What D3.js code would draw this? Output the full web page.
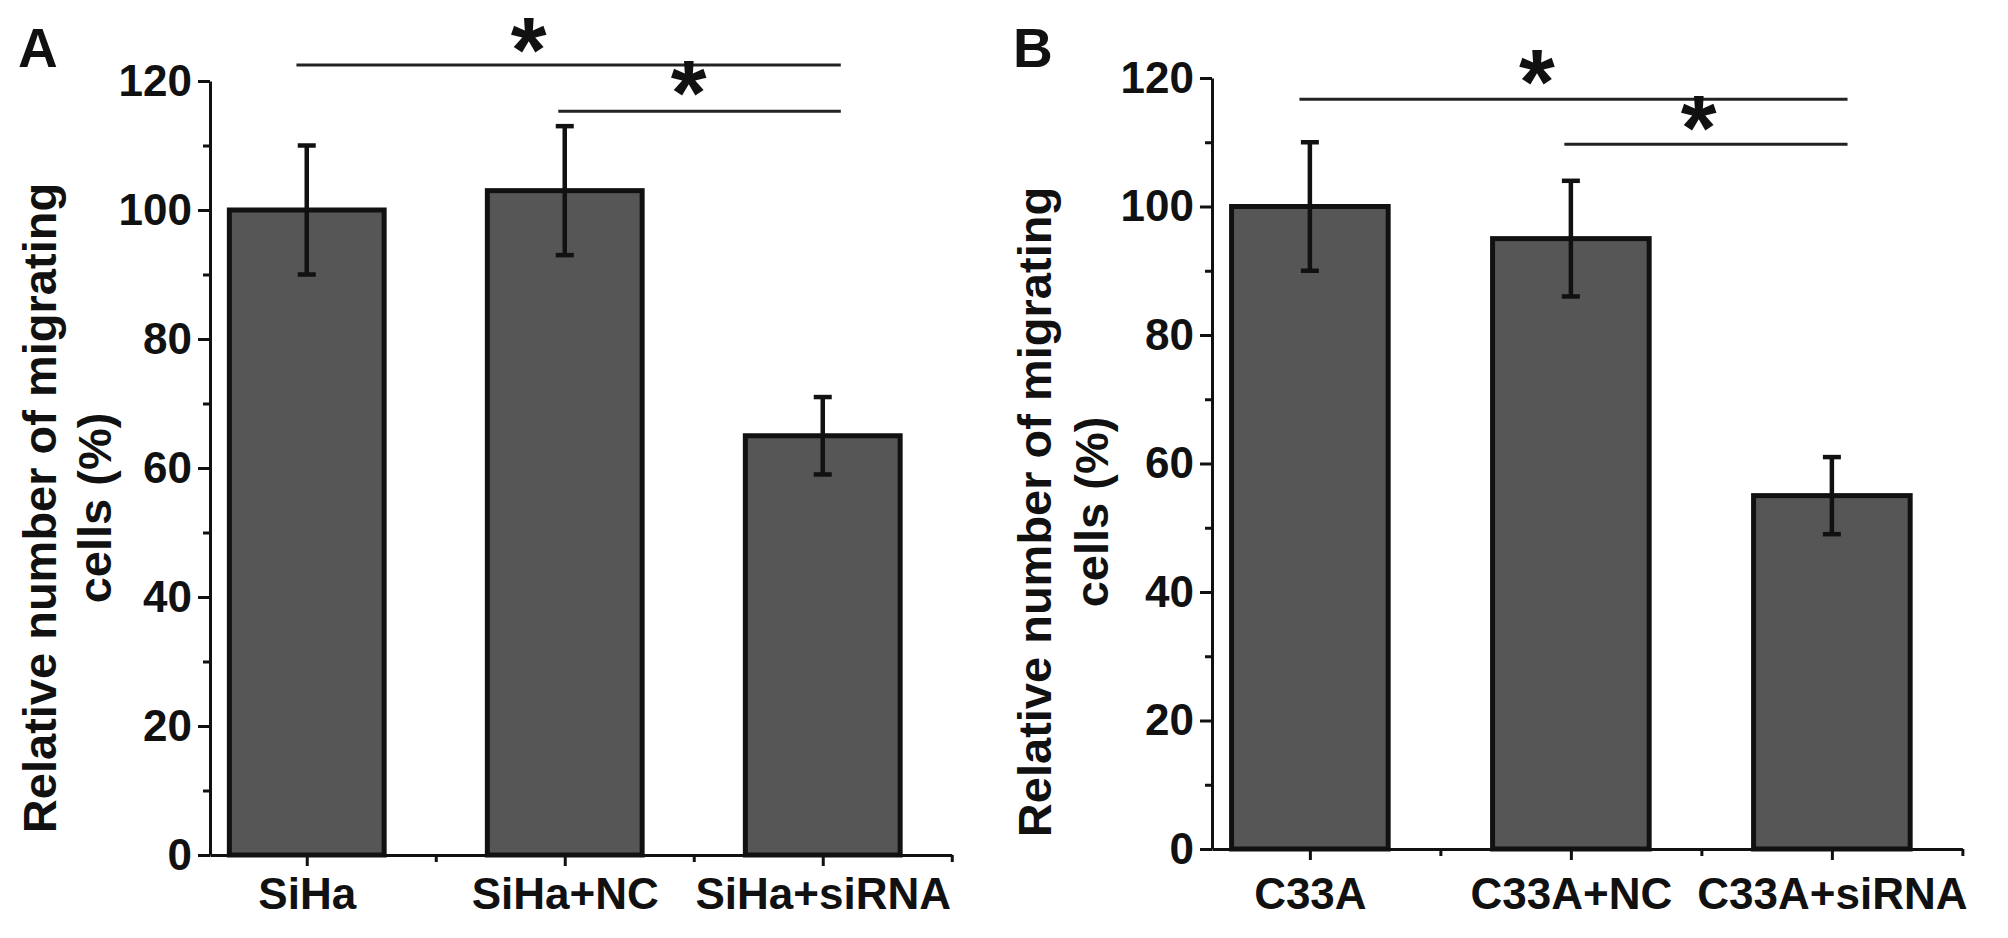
<!DOCTYPE html>
<html>
<head>
<meta charset="utf-8">
<script src="https://cdn.jsdelivr.net/npm/d3@7"></script>
<style>
  html, body { margin: 0; padding: 0; background: #fff; }
  svg { display: block; }
  text { font-family: "Liberation Sans", Arial, Helvetica, sans-serif; font-weight: bold; fill: #111; }
</style>
</head>
<body>
<svg id="chart" width="2008" height="938"></svg>
<script>
// ---------- data ----------
const categoriesA = ["SiHa", "SiHa+NC", "SiHa+siRNA"];
const valuesA = [100, 103, 65];
const errorsA = [10, 10, 6];
const categoriesB = ["C33A", "C33A+NC", "C33A+siRNA"];
const valuesB = [100, 95, 55];
const errorsB = [10, 9, 6];
const yTicks = [0, 20, 40, 60, 80, 100, 120];
const yMinorTicks = [10, 30, 50, 70, 90, 110];
const xMinorTicks = [1.5, 2.5, 3.5];
const yLabelLines = ["Relative number of migrating", "cells (%)"];
// significance brackets (category units / value units)
const sigA = [
  { x1: 0.96, x2: 3.07, level: 122.5, starX: 1.86, starLevel: 125.6, label: "*" },
  { x1: 1.975, x2: 3.07, level: 115.3, starX: 2.48, starLevel: 118.9, label: "*" }
];
const sigB = [
  { x1: 0.96, x2: 3.06, level: 116.7, starX: 1.87, starLevel: 120.2, label: "*" },
  { x1: 1.975, x2: 3.06, level: 109.7, starX: 2.49, starLevel: 113.0, label: "*" }
];

// ---------- layout ----------
const svg = d3.select("#chart");
const panels = [
  { letter: "A", cats: categoriesA, vals: valuesA, errs: errorsA, sig: sigA,
    axisX: 210, unit: 258, y0: 855, yTop: 81, letterX: 18, letterY: 67,
    xLabelPad: 12, yl1: 56, yl2: 111, ylCenter: 508 },
  { letter: "B", cats: categoriesB, vals: valuesB, errs: errorsB, sig: sigB,
    axisX: 1212, unit: 261, y0: 849, yTop: 78, letterX: 1013, letterY: 67,
    xLabelPad: 18, yl1: 1051, yl2: 1108, ylCenter: 512 }
];

const xDomain = [0.625, 3.5];
const barWidthUnits = 0.6;

panels.forEach(p => {
  const g = svg.append("g");
  const x = d3.scaleLinear().domain(xDomain)
    .range([p.axisX, p.axisX + (xDomain[1] - xDomain[0]) * p.unit]);
  const y = d3.scaleLinear().domain([0, 120]).range([p.y0, p.yTop]);

  // bars
  g.selectAll("rect.bar").data(p.vals).join("rect")
    .attr("class", "bar")
    .attr("x", (d, i) => x(i + 1 - barWidthUnits / 2))
    .attr("width", x(1 + barWidthUnits / 2) - x(1 - barWidthUnits / 2))
    .attr("y", d => y(d))
    .attr("height", d => y(0) - y(d))
    .attr("fill", "#565656")
    .attr("stroke", "#111")
    .attr("stroke-width", 5);

  // error bars
  const eb = g.selectAll("g.err").data(p.vals).join("g").attr("class", "err")
    .attr("stroke", "#111").attr("stroke-width", 4.5);
  eb.append("line")
    .attr("x1", (d, i) => x(i + 1)).attr("x2", (d, i) => x(i + 1))
    .attr("y1", (d, i) => y(d - p.errs[i])).attr("y2", (d, i) => y(d + p.errs[i]));
  eb.append("line")
    .attr("x1", (d, i) => x(i + 1) - 9).attr("x2", (d, i) => x(i + 1) + 9)
    .attr("y1", (d, i) => y(d + p.errs[i])).attr("y2", (d, i) => y(d + p.errs[i]));
  eb.append("line")
    .attr("x1", (d, i) => x(i + 1) - 9).attr("x2", (d, i) => x(i + 1) + 9)
    .attr("y1", (d, i) => y(d - p.errs[i])).attr("y2", (d, i) => y(d - p.errs[i]));

  // y axis
  g.append("g").attr("transform", `translate(${p.axisX},0)`)
    .call(d3.axisLeft(y).tickValues(yTicks).tickSize(12).tickSizeOuter(0).tickPadding(6));
  const yMinor = g.append("g").attr("transform", `translate(${p.axisX},0)`)
    .call(d3.axisLeft(y).tickValues(yMinorTicks).tickSize(7).tickSizeOuter(0).tickFormat(""));
  yMinor.select(".domain").remove();

  // x axis
  g.append("g").attr("transform", `translate(0,${p.y0})`)
    .call(d3.axisBottom(x).tickValues([1, 2, 3]).tickFormat(i => p.cats[i - 1])
      .tickSize(11).tickSizeOuter(0).tickPadding(p.xLabelPad));
  const xMinor = g.append("g").attr("transform", `translate(0,${p.y0})`)
    .call(d3.axisBottom(x).tickValues(xMinorTicks).tickSize(7).tickSizeOuter(0).tickFormat(""));
  xMinor.select(".domain").remove();

  g.selectAll(".domain, .tick line").attr("stroke", "#111").attr("stroke-width", 3);
  g.selectAll(".tick text").attr("font-size", 44).attr("fill", "#111")
    .style("font-family", '"Liberation Sans", Arial, sans-serif').style("font-weight", "bold");

  // y label
  [p.yl1, p.yl2].forEach((bx, li) => {
    g.append("text")
      .attr("transform", `translate(${bx},${p.ylCenter}) rotate(-90)`)
      .attr("text-anchor", "middle")
      .attr("font-size", 47)
      .text(yLabelLines[li]);
  });

  // panel letter
  g.append("text").attr("x", p.letterX).attr("y", p.letterY)
    .attr("font-size", 55).text(p.letter);

  // significance annotations
  p.sig.forEach(s => {
    g.append("line")
      .attr("x1", x(s.x1)).attr("x2", x(s.x2))
      .attr("y1", y(s.level)).attr("y2", y(s.level))
      .attr("stroke", "#222").attr("stroke-width", 3);
    g.append("text")
      .attr("x", x(s.starX)).attr("y", y(s.starLevel) + 37)
      .attr("text-anchor", "middle")
      .attr("font-size", 92)
      .text(s.label);
  });
});
</script>
</body>
</html>
